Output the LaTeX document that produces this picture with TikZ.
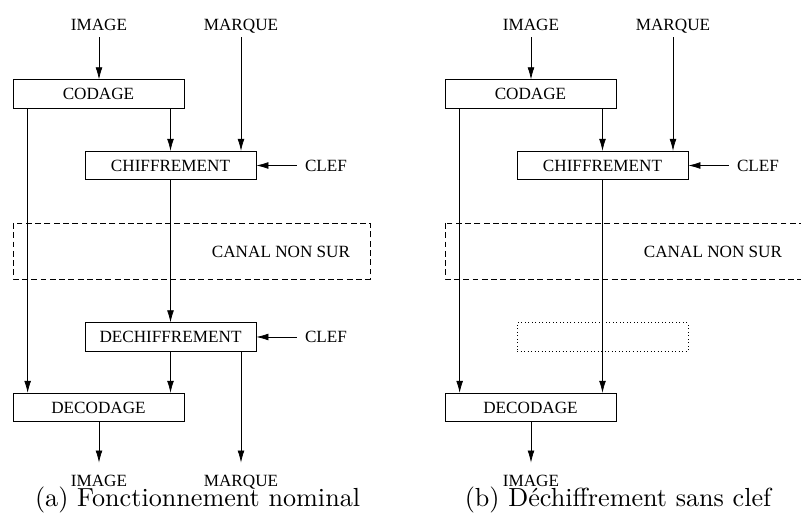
\documentclass[tikz,border=0pt]{standalone}
\usepackage{fontspec}
\newfontfamily\schemafont{Liberation Serif}
\newfontfamily\legendefont{lmroman10-regular}[Extension=.otf]
\usetikzlibrary{arrows.meta, positioning}

\begin{document}
\begin{tikzpicture}[
    line width=0.5pt,
    every node/.style={font=\schemafont\fontsize{12.2}{14}\selectfont},
    fleche/.style={-{Latex[length=3mm,width=1.7mm]}},
    bloc/.style={draw, minimum width=4.275cm, minimum height=0.7125cm, inner sep=0pt, text height=8pt, text depth=0pt},
    entree/.style={inner xsep=0pt, inner ysep=5pt, text height=8pt, text depth=0pt},
    sortie/.style={inner xsep=0pt, inner ysep=8.5pt, text height=8pt, text depth=0pt},
    clef/.style={inner xsep=5.5pt, text height=8pt, text depth=0pt},
    canal/.style={dash pattern=on 4.2pt off 2.4pt},
    legende/.style={font=\legendefont\fontsize{18.6}{22}\selectfont, anchor=base, inner sep=0pt}
]
\useasboundingbox (0,0) rectangle (20.025,13.075);
\clip (0,0) rectangle (20.025,13.075);

% parties communes aux deux schemas
\foreach \p/\dx/\fin in {a/0/9.25, b/10.8/10.5} {
  \begin{scope}[xshift=\dx cm]
    \node[entree] (imagein\p) at (2.475,12.4625) {IMAGE};
    \node[entree] (marquein\p) at (6.025,12.4625) {MARQUE};
    \node[bloc] (codage\p) at (2.4625,10.725) {CODAGE};
    \node[bloc] (chiffrement\p) at (4.2625,8.9375) {CHIFFREMENT};
    \node[clef] (clefc\p) at (8.15,8.9375) {CLEF};
    \draw[canal] (0.325,7.5) rectangle (\fin,6.1);
    \node (canal\p) at (7.025,6.775) {CANAL NON SUR};
    \node[bloc] (decodage\p) at (2.4625,2.8875) {DECODAGE};
    \node[sortie] (imageout\p) at (2.475,1.0625) {IMAGE};

    \draw[fleche] (imagein\p.south) -- (imagein\p.south |- codage\p.north);
    \draw[fleche] (codage\p.south -| chiffrement\p.north) -- (chiffrement\p.north);
    \draw[fleche] (marquein\p.south) -- (marquein\p.south |- chiffrement\p.north);
    \draw[fleche] (clefc\p.west) -- (chiffrement\p.east);
    \draw[fleche] ([xshift=0.375cm]codage\p.south west) -- ([xshift=0.375cm]decodage\p.north west);
    \draw[fleche] (decodage\p.south -| imageout\p) -- (imageout\p.north);
  \end{scope}
}

% (a) fonctionnement nominal
\node[bloc] (dechiffrementa) at (4.2625,4.65) {DECHIFFREMENT};
\node[clef] (clefda) at (8.15,4.65) {CLEF};
\node[sortie] (marqueouta) at (6.025,1.0625) {MARQUE};
\draw[fleche] (chiffrementa) -- (dechiffrementa);
\draw[fleche] (clefda.west) -- (dechiffrementa.east);
\draw[fleche] (dechiffrementa.south) -- (dechiffrementa.south |- decodagea.north);
\draw[fleche] (dechiffrementa.south -| marqueouta) -- (marqueouta.north);

% (b) sans clef
\node[bloc, dotted] (videb) at (15.0625,4.65) {};
\draw[fleche] (chiffrementb.south) -- (chiffrementb.south |- decodageb.north);

\node[legende] (legendea) at (4.94,0.4) {(a) Fonctionnement nominal};
\node[legende] (legendeb) at (15.45,0.4) {(b) D\'echiffrement sans clef};
\end{tikzpicture}
\end{document}
